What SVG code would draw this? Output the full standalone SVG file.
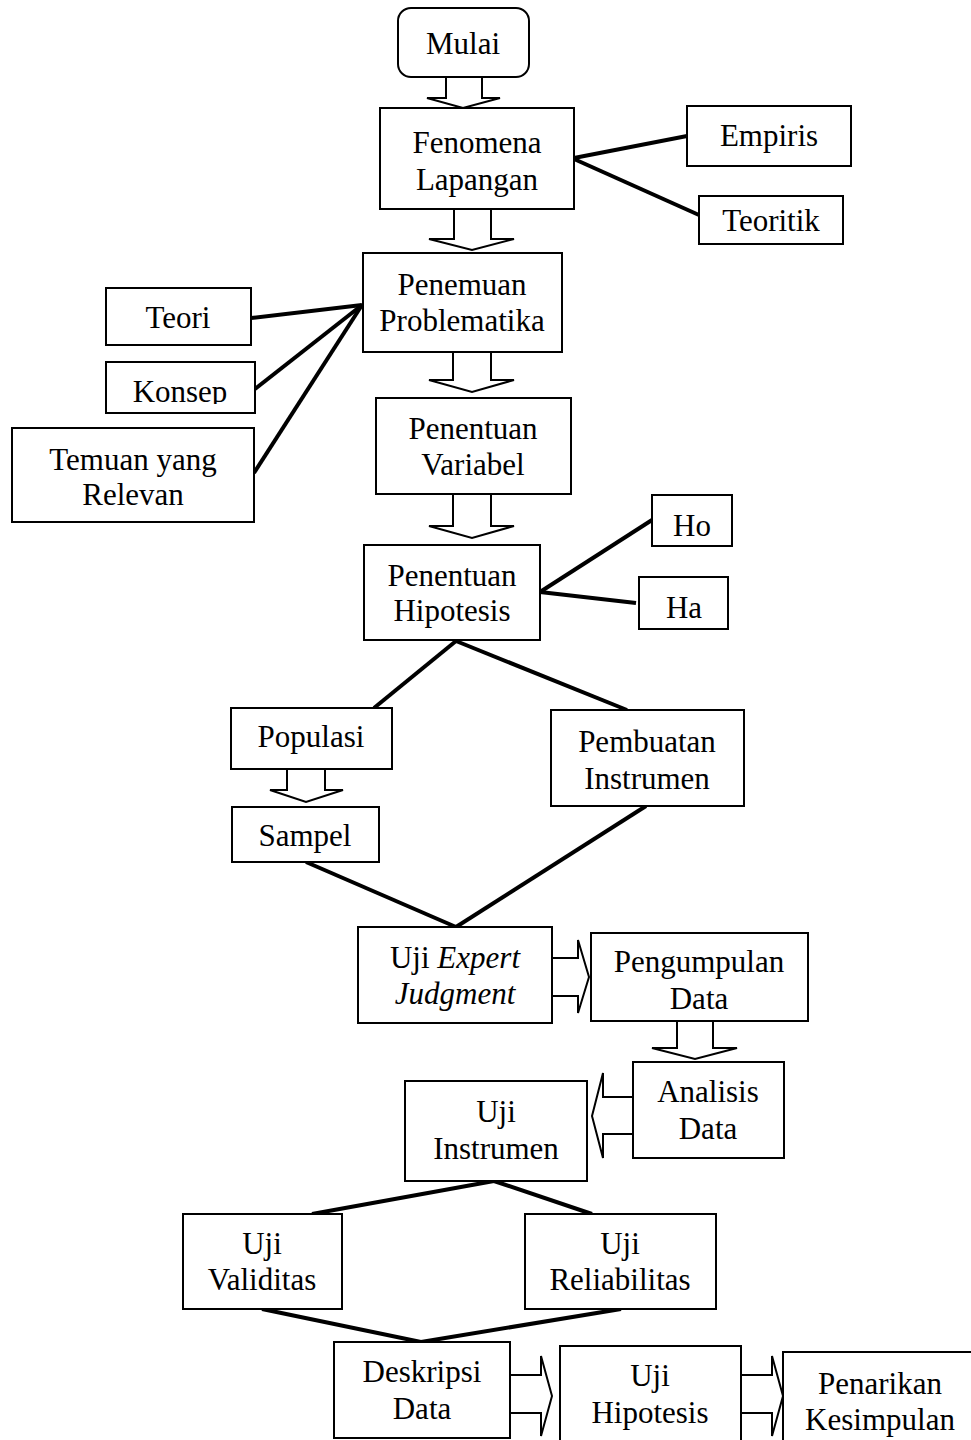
<svg xmlns="http://www.w3.org/2000/svg" width="971" height="1440" viewBox="0 0 971 1440">
<style>
.b{fill:#fff;stroke:#000;stroke-width:2}
.a{fill:#fff;stroke:#000;stroke-width:2;stroke-linejoin:miter}
.l{stroke:#000;stroke-width:4;fill:none}
text{font-family:"Liberation Serif","Times New Roman",serif;font-size:31px;fill:#000;text-anchor:middle}
</style>
<defs><clipPath id="kc"><rect x="100" y="360" width="160" height="44"/></clipPath></defs>
<rect width="971" height="1440" fill="#fff"/>
<g id="connectors">
<line class="l" x1="574" y1="158" x2="687" y2="136"/>
<line class="l" x1="574" y1="159" x2="699" y2="215"/>
<line class="l" x1="362" y1="305" x2="251" y2="318"/>
<line class="l" x1="362" y1="305" x2="255" y2="389"/>
<line class="l" x1="362" y1="305" x2="254" y2="473"/>
<line class="l" x1="540" y1="592" x2="652" y2="520"/>
<line class="l" x1="540" y1="592" x2="636" y2="603"/>
<line class="l" x1="456" y1="641" x2="374" y2="708"/>
<line class="l" x1="456" y1="641" x2="627" y2="710"/>
<line class="l" x1="306" y1="862" x2="456" y2="927"/>
<line class="l" x1="646" y1="806" x2="456" y2="927"/>
<line class="l" x1="494" y1="1181" x2="312" y2="1214"/>
<line class="l" x1="494" y1="1181" x2="592" y2="1214"/>
<line class="l" x1="262" y1="1309" x2="421" y2="1342"/>
<line class="l" x1="621" y1="1309" x2="421" y2="1342"/>
<polygon class="a" points="446,77 482,77 482,98 500,98 463,108 427,98 446,98"/>
<polygon class="a" points="454,209 491,209 491,239 514,239 472,250 429,239 454,239"/>
<polygon class="a" points="453,352 491,352 491,380 514,380 472,392 429,380 453,380"/>
<polygon class="a" points="453,494 491,494 491,526 514,526 472,538 429,526 453,526"/>
<polygon class="a" points="287,769 325,769 325,790 343,790 306,802 270,790 287,790"/>
<polygon class="a" points="552,958 578,958 578,940 589,977 578,1013 578,996 552,996"/>
<polygon class="a" points="677,1021 713,1021 713,1048 737,1048 695,1059 652,1048 677,1048"/>
<polygon class="a" points="633,1097 603,1097 603,1073 592,1116 603,1158 603,1134 633,1134"/>
<polygon class="a" points="510,1375 541,1375 541,1356 552,1396 541,1436 541,1413 510,1413"/>
<polygon class="a" points="741,1375 772,1375 772,1356 783,1396 772,1436 772,1413 741,1413"/>
</g>
<g id="mulai"><rect class="b" x="398" y="8" width="131" height="69" rx="13"/><text x="463" y="54">Mulai</text></g>
<g id="fenomena"><rect class="b" x="380" y="108" width="194" height="101"/><text x="477" y="153">Fenomena</text><text x="477" y="190">Lapangan</text></g>
<g id="empiris"><rect class="b" x="687" y="106" width="164" height="60"/><text x="769" y="146">Empiris</text></g>
<g id="teoritik"><rect class="b" x="699" y="196" width="144" height="48"/><text x="771" y="231">Teoritik</text></g>
<g id="penemuan"><rect class="b" x="363" y="253" width="199" height="99"/><text x="462" y="295">Penemuan</text><text x="462" y="331">Problematika</text></g>
<g id="teori"><rect class="b" x="106" y="288" width="145" height="57"/><text x="178" y="328">Teori</text></g>
<g id="konsep"><rect class="b" x="106" y="362" width="149" height="51"/><text x="180" y="402" clip-path="url(#kc)">Konsep</text></g>
<g id="temuan"><rect class="b" x="12" y="428" width="242" height="94"/><text x="133" y="470">Temuan yang</text><text x="133" y="505">Relevan</text></g>
<g id="variabel"><rect class="b" x="376" y="398" width="195" height="96"/><text x="473" y="439">Penentuan</text><text x="473" y="475">Variabel</text></g>
<g id="hipotesis"><rect class="b" x="364" y="545" width="176" height="95"/><text x="452" y="586">Penentuan</text><text x="452" y="621">Hipotesis</text></g>
<g id="ho"><rect class="b" x="652" y="495" width="80" height="51"/><text x="692" y="536">Ho</text></g>
<g id="ha"><rect class="b" x="639" y="577" width="89" height="52"/><text x="684" y="618">Ha</text></g>
<g id="populasi"><rect class="b" x="231" y="708" width="161" height="61"/><text x="311" y="747">Populasi</text></g>
<g id="pembuatan"><rect class="b" x="551" y="710" width="193" height="96"/><text x="647" y="752">Pembuatan</text><text x="647" y="789">Instrumen</text></g>
<g id="sampel"><rect class="b" x="232" y="807" width="147" height="55"/><text x="305" y="846">Sampel</text></g>
<g id="expert"><rect class="b" x="358" y="927" width="194" height="96"/><text x="455" y="968">Uji <tspan font-style="italic">Expert</tspan></text><text x="455" y="1004" font-style="italic">Judgment</text></g>
<g id="pengumpulan"><rect class="b" x="591" y="933" width="217" height="88"/><text x="699" y="972">Pengumpulan</text><text x="699" y="1009">Data</text></g>
<g id="analisis"><rect class="b" x="633" y="1062" width="151" height="96"/><text x="708" y="1102">Analisis</text><text x="708" y="1139">Data</text></g>
<g id="ujiinstrumen"><rect class="b" x="405" y="1081" width="182" height="100"/><text x="496" y="1122">Uji</text><text x="496" y="1159">Instrumen</text></g>
<g id="validitas"><rect class="b" x="183" y="1214" width="159" height="95"/><text x="262" y="1254">Uji</text><text x="262" y="1290">Validitas</text></g>
<g id="reliabilitas"><rect class="b" x="525" y="1214" width="191" height="95"/><text x="620" y="1254">Uji</text><text x="620" y="1290">Reliabilitas</text></g>
<g id="deskripsi"><rect class="b" x="334" y="1342" width="176" height="96"/><text x="422" y="1382">Deskripsi</text><text x="422" y="1419">Data</text></g>
<g id="ujihipotesis"><rect class="b" x="560" y="1346" width="181" height="100"/><text x="650" y="1386">Uji</text><text x="650" y="1423">Hipotesis</text></g>
<g id="penarikan"><rect class="b" x="783" y="1352" width="196" height="94"/><text x="880" y="1394">Penarikan</text><text x="880" y="1430">Kesimpulan</text></g>
</svg>
